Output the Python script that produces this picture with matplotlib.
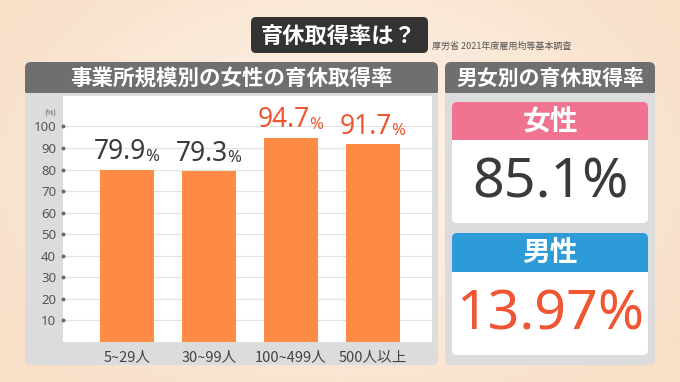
"""育休取得率 infographic: bar chart by workplace size + female/male cards."""

import matplotlib
matplotlib.use("Agg")
import matplotlib.pyplot as plt
import numpy as np
from matplotlib.patches import FancyBboxPatch, Rectangle

# --- data ---
sizes = ["5~29人", "30~99人", "100~499人", "500人以上"]
female_rate = [79.9, 79.3, 94.7, 91.7]
highlight = [False, False, True, True]
yticks = [10, 20, 30, 40, 50, 60, 70, 80, 90, 100]
gender_labels = ["女性", "男性"]
gender_rates = ["85.1", "13.97"]

W, H = 680, 382
JP = ["Noto Sans CJK JP", "DejaVu Sans"]
NUM = ["Noto Sans", "Noto Sans CJK JP"]

ORANGE = "#fd8b46"
RED = "#ee5634"
INK = "#3a3a3a"
HEAD = "#6f6f6f"
PANEL = "#dcdcdc"
PINK = "#f07390"
BLUE = "#2c9bd7"

plt.rcParams["font.family"] = JP

fig = plt.figure(figsize=(W / 100, H / 100), dpi=100)

# background canvas in pixel coords (origin top-left)
bg = fig.add_axes([0, 0, 1, 1])
bg.set_xlim(0, W)
bg.set_ylim(H, 0)
bg.axis("off")
yy, xx = np.mgrid[0:1:200j, 0:1:360j]
r = np.sqrt((xx - 0.5) ** 2 + ((yy - 0.45) * 0.8) ** 2)
c0 = np.array([253, 245, 235]) / 255
c1 = np.array([249, 223, 200]) / 255
grad = c0 + (c1 - c0) * np.clip(r / 0.6, 0, 1)[..., None]
bg.imshow(grad, extent=[0, W, H, 0], aspect="auto", zorder=0)


def box(x0, y0, x1, y1, color, rs=5, z=1):
    bg.add_patch(FancyBboxPatch((x0, y0), x1 - x0, y1 - y0,
                                boxstyle=f"round,pad=0,rounding_size={rs}",
                                fc=color, ec="none", zorder=z))


def rect(x0, y0, x1, y1, color, z=1):
    bg.add_patch(Rectangle((x0, y0), x1 - x0, y1 - y0, fc=color, ec="none", zorder=z))


# title
box(251, 17, 428, 53, "#333333", rs=5, z=2)
bg.text(339, 36, "育休取得率は？", color="white", fontsize=16, fontweight="bold",
        ha="center", va="center", zorder=3)
bg.text(432, 46, "厚労省 2021年度雇用均等基本調査", color="#555555", fontsize=6.5,
        ha="left", va="center", zorder=3)

# left panel
box(25, 62, 438, 365, PANEL, rs=6, z=1)
box(25, 62, 438, 96, HEAD, rs=6, z=2)
rect(25, 93, 438, 100, PANEL, z=2)
bg.text(231, 78, "事業所規模別の女性の育休取得率", color="white", fontsize=15.5,
        fontweight="bold", ha="center", va="center", zorder=3)
bg.text(50, 114, "(%)", color="#555555", fontsize=5.5, ha="center", va="center", zorder=3)

# right panel
box(445, 62, 655, 365, PANEL, rs=6, z=1)
box(445, 62, 655, 96, HEAD, rs=6, z=2)
rect(445, 93, 655, 100, PANEL, z=2)
bg.text(550, 78, "男女別の育休取得率", color="white", fontsize=15,
        fontweight="bold", ha="center", va="center", zorder=3)

cards = [(102, 140, 223, PINK, INK), (233, 272, 355, BLUE, RED)]
for (top, mid, bot, hc, vc), lab, val in zip(cards, gender_labels, gender_rates):
    box(452, top, 648, bot, "white", rs=5, z=2)
    box(452, top, 648, mid, hc, rs=5, z=3)
    rect(452, mid - 6, 648, mid, hc, z=3)
    bg.text(550, (top + mid) / 2, lab, color="white", fontsize=20, fontweight="bold",
            ha="center", va="center", zorder=4)
    bg.text(550, (mid + bot) / 2 + 2, val + "%", color=vc, fontsize=40,
            family=NUM, ha="center", va="center", zorder=4)

# bar chart axes: white plot area 63..432 px, value 0 at y=342.6, 2.156 px per unit
x0, x1, ytop, ybot = 63, 432, 96, 342
ax = fig.add_axes([x0 / W, 1 - ybot / H, (x1 - x0) / W, (ybot - ytop) / H])
ax.set_facecolor("white")
ymax = (ybot - ytop) / 2.156
ax.set_ylim(0, ymax)
# 82 px between bar centres, first centre at 127 px
ax.set_xlim(-(127 - x0) / 82, -(127 - x0) / 82 + (x1 - x0) / 82)
for s in ax.spines.values():
    s.set_visible(False)
for t in yticks:
    ax.axhline(t, color="#e2e2e2", lw=0.8, zorder=0)

xs = np.arange(len(sizes))
ax.bar(xs, female_rate, width=0.67, color=ORANGE, zorder=2)

for x, v, hi in zip(xs, female_rate, highlight):
    col = RED if hi else INK
    ax.annotate(f"{v:.1f}", (x, v), xytext=(13.5, 2.5), textcoords="offset points",
                ha="right", va="bottom", fontsize=19, color=col, family=NUM)
    ax.annotate("%", (x, v), xytext=(13, 3.5), textcoords="offset points",
                ha="left", va="bottom", fontsize=12, color=col, family=NUM)

ax.set_yticks(yticks)
ax.set_yticklabels([str(t) for t in yticks], family=NUM)
ax.tick_params(axis="y", length=2, pad=3, labelsize=9.5, labelcolor="#555555")
for tk in ax.yaxis.get_major_ticks():
    tk.tick1line.set_marker("o")
    tk.tick1line.set_markersize(2)
    tk.tick1line.set_markerfacecolor("#666666")
    tk.tick1line.set_markeredgecolor("#666666")

ax.set_xticks(xs)
ax.set_xticklabels(sizes)
ax.tick_params(axis="x", length=0, pad=6, labelsize=10.5, labelcolor="#444444")

fig.savefig("out.png", dpi=100, facecolor="white")
